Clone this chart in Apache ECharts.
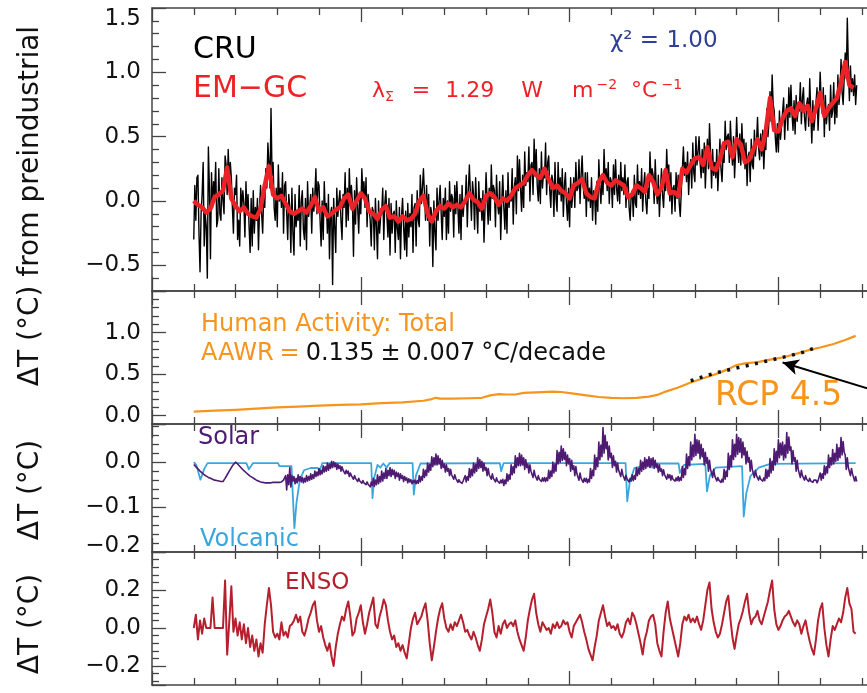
<!DOCTYPE html>
<html>
<head>
<meta charset="utf-8">
<script src="https://cdn.jsdelivr.net/npm/echarts@6/dist/echarts.min.js"></script>
<style>
  html, body { margin: 0; padding: 0; background: #ffffff; }
  #chart { width: 867px; height: 693px; }
</style>
</head>
<body>
<div id="chart"></div>
<script>
// ---------------- data ----------------
// Observed global temperature anomaly (CRU), quarter-year steps from 1860
const cruStart = 1860, cruStep = 0.25;
const cruValues = [
  -0.30, 0.12, -0.15, 0.18,   0.20, -0.25, -0.55, -0.10,
  0.05, 0.30, -0.35, -0.10,   -0.20, -0.60, 0.42, 0.10,
  -0.45, 0.22, -0.05, 0.15,   0.05, 0.30, -0.20, -0.15,
  0.25, -0.10, -0.15, 0.18,   0.00, -0.10, 0.35, 0.28,
  0.05, 0.40, 0.15, 0.30,     0.18, -0.05, -0.25, 0.10,
  0.05, 0.20, -0.30, -0.15,   -0.35, 0.10, -0.05, 0.08,
  -0.02, -0.28, 0.15, -0.10,  0.05, -0.20, -0.40, 0.02,
  -0.35, 0.08, -0.25, -0.05,  -0.15, 0.02, -0.38, -0.05,
  0.12, -0.10, -0.25, 0.05,   -0.05, 0.25, 0.10, 0.45,
  0.30, 0.10, 0.72, 0.20,     0.30, -0.05, -0.15, 0.10,
  -0.20, 0.28, 0.00, 0.10,    -0.05, 0.22, -0.25, 0.12,
  0.15, -0.10, -0.30, 0.05,   -0.05, -0.40, 0.10, -0.25,
  -0.42, 0.05, -0.20, -0.10,  -0.15, 0.12, -0.35, 0.00,
  0.08, -0.22, -0.30, 0.02,   -0.38, 0.15, -0.12, -0.05,
  0.05, -0.25, 0.10, -0.08,   0.05, 0.25, -0.10, 0.15,
  0.12, -0.15, -0.35, 0.00,   -0.30, 0.15, -0.10, -0.02,
  -0.25, 0.05, -0.45, -0.10,  -0.05, -0.65, 0.02, -0.20,
  -0.40, 0.10, -0.12, 0.00,   0.08, -0.15, -0.30, 0.05,
  -0.05, 0.22, -0.20, 0.10,   -0.15, 0.25, 0.00, 0.12,
  -0.02, -0.43, 0.08, -0.18,  0.18, -0.05, -0.25, 0.05,
  -0.10, 0.25, 0.05, 0.15,    -0.05, 0.18, -0.20, 0.05,
  0.05, -0.15, -0.35, -0.05,  -0.08, -0.38, 0.02, -0.20,
  -0.45, 0.00, -0.25, -0.12,  -0.10, 0.10, -0.30, -0.02,
  0.08, -0.12, -0.28, 0.02,   -0.42, -0.02, -0.25, -0.10,
  -0.08, -0.40, 0.00, -0.22,  -0.30, -0.05, -0.45, -0.12,
  0.02, -0.20, -0.38, -0.08,  -0.43, -0.02, -0.28, -0.10,
  -0.20, 0.05, -0.40, -0.05,  -0.02, -0.35, 0.08, -0.15,
  -0.20, 0.20, -0.02, 0.10,   0.25, 0.05, -0.15, 0.12,
  -0.15, 0.05, -0.35, -0.05,  -0.10, -0.51, 0.00, -0.25,
  -0.38, 0.10, -0.15, 0.00,   0.12, -0.10, -0.30, 0.02,
  -0.12, 0.10, -0.30, 0.00,   -0.25, 0.15, -0.08, 0.05,
  0.02, -0.28, 0.12, -0.10,   0.15, -0.05, -0.25, 0.05,
  -0.30, 0.12, -0.12, 0.00,   -0.02, 0.20, -0.20, 0.08,
  0.28, 0.05, -0.15, 0.15,    0.05, -0.22, 0.18, -0.05,
  -0.25, 0.15, -0.08, 0.02,   -0.15, 0.08, -0.32, -0.05,
  0.22, 0.00, -0.18, 0.10,    -0.15, 0.28, 0.02, 0.12,
  0.08, -0.20, 0.20, -0.02,   -0.10, 0.15, -0.30, 0.00,
  0.20, -0.05, -0.22, 0.08,   -0.25, 0.22, -0.05, 0.05,
  0.00, 0.25, -0.18, 0.10,    0.18, -0.10, 0.35, 0.08,
  0.32, 0.10, -0.08, 0.20,    -0.05, 0.38, 0.12, 0.22,
  0.15, 0.42, 0.00, 0.28,     0.30, 0.05, 0.48, 0.20,
  0.40, 0.12, 0.00, 0.25,     -0.02, 0.38, 0.10, 0.22,
  0.18, 0.45, 0.05, 0.30,     0.35, 0.08, -0.05, 0.20,
  0.15, -0.12, 0.30, 0.02,    -0.08, 0.30, 0.05, 0.18,
  0.00, 0.25, -0.12, 0.12,    0.22, -0.02, -0.15, 0.10,
  -0.20, 0.18, -0.05, 0.05,   0.18, -0.05, 0.30, 0.08,
  0.10, 0.32, -0.02, 0.20,    0.35, 0.12, 0.02, 0.22,
  -0.12, 0.22, 0.00, 0.10,    -0.05, 0.18, -0.15, 0.08,
  0.05, -0.18, 0.15, -0.08,   0.32, 0.10, -0.02, 0.20,
  0.05, 0.40, 0.15, 0.25,     0.08, 0.30, -0.02, 0.18,
  0.15, -0.05, 0.28, 0.05,    0.32, 0.10, 0.00, 0.20,
  -0.02, 0.30, 0.08, 0.18,    0.05, 0.28, -0.05, 0.15,
  0.18, -0.05, -0.15, 0.05,   0.08, -0.12, 0.20, -0.02,
  -0.05, 0.28, 0.05, 0.15,    0.02, 0.25, -0.08, 0.12,
  0.22, 0.00, -0.10, 0.10,    0.02, 0.38, 0.15, 0.25,
  0.20, -0.02, 0.32, 0.10,    -0.02, 0.20, -0.12, 0.08,
  0.25, 0.05, -0.05, 0.15,    0.08, 0.40, 0.18, 0.28,
  0.00, 0.22, -0.10, 0.10,    0.12, -0.08, 0.22, 0.02,
  0.20, -0.02, -0.12, 0.08,   0.08, 0.42, 0.20, 0.30,
  0.15, 0.38, 0.05, 0.25,     0.32, 0.10, 0.45, 0.22,
  0.15, 0.50, 0.28, 0.38,     0.50, 0.30, 0.18, 0.40,
  0.22, 0.45, 0.10, 0.32,     0.48, 0.25, 0.60, 0.38,
  0.10, 0.40, 0.20, 0.30,     0.18, 0.40, 0.08, 0.28,
  0.48, 0.25, 0.15, 0.36,     0.30, 0.62, 0.40, 0.50,
  0.52, 0.30, 0.62, 0.42,     0.28, 0.50, 0.18, 0.38,
  0.65, 0.42, 0.30, 0.52,     0.28, 0.60, 0.38, 0.48,
  0.25, 0.45, 0.12, 0.35,     0.38, 0.15, 0.48, 0.28,
  0.25, 0.55, 0.35, 0.45,     0.65, 0.42, 0.32, 0.52,
  0.35, 0.55, 0.25, 0.45,     0.40, 0.72, 0.50, 0.62,
  0.85, 0.62, 0.98, 0.75,     0.70, 0.50, 0.38, 0.60,
  0.38, 0.70, 0.48, 0.58,     0.58, 0.80, 0.48, 0.68,
  0.75, 0.55, 0.88, 0.65,     0.90, 0.68, 0.55, 0.78,
  0.52, 0.82, 0.62, 0.72,     0.70, 0.92, 0.60, 0.80,
  0.88, 0.65, 0.55, 0.75,     0.80, 0.58, 0.95, 0.70,
  0.45, 0.78, 0.55, 0.65,     0.65, 0.88, 0.55, 0.75,
  1.00, 0.78, 0.68, 0.88,     0.50, 0.82, 0.60, 0.70,
  0.75, 0.55, 0.90, 0.65,     0.70, 0.92, 0.60, 0.80,
  0.65, 0.98, 0.75, 0.85,     1.10, 0.85, 0.75, 0.95,
  1.15, 0.95, 1.42, 1.05,     0.78, 1.05, 0.85, 0.95,
  0.82, 0.98, 0.75, 0.90
];

// Empirical model (EM-GC) reconstruction, yearly from 1860
const emgcStart = 1860, emgcStep = 1;
const emgcValues = [
  0.00, -0.03, -0.05, -0.09, -0.06, 0.03, 0.05, 0.08, 0.26, 0.02,
  -0.04, -0.08, -0.05, -0.10, -0.12, -0.13, -0.06, 0.12, 0.27, 0.05,
  0.02, 0.04, -0.02, -0.08, -0.10, -0.08, -0.06, -0.09, -0.04, 0.03,
  -0.08, -0.05, -0.12, -0.10, -0.07, -0.05, 0.02, 0.05, -0.06, 0.00,
  0.06, 0.02, -0.08, -0.10, -0.14, -0.07, -0.04, -0.13, -0.12, -0.16,
  -0.12, -0.15, -0.14, -0.10, 0.00, 0.04, -0.10, -0.16, -0.08, -0.04,
  -0.06, -0.02, -0.05, -0.03, -0.05, 0.00, 0.06, 0.01, -0.01, -0.06,
  0.04, 0.06, 0.03, -0.03, 0.02, 0.00, 0.04, 0.10, 0.12, 0.14,
  0.20, 0.24, 0.20, 0.18, 0.25, 0.17, 0.10, 0.12, 0.08, 0.06,
  0.02, 0.12, 0.14, 0.17, 0.06, 0.03, 0.02, 0.15, 0.20, 0.14,
  0.12, 0.16, 0.14, 0.12, 0.03, 0.05, 0.12, 0.10, 0.07, 0.20,
  0.15, 0.05, 0.10, 0.24, 0.06, 0.07, 0.04, 0.25, 0.22, 0.28,
  0.33, 0.34, 0.28, 0.42, 0.26, 0.24, 0.32, 0.45, 0.46, 0.34,
  0.48, 0.44, 0.30, 0.32, 0.40, 0.48, 0.40, 0.55, 0.80, 0.55,
  0.54, 0.64, 0.70, 0.72, 0.66, 0.76, 0.70, 0.74, 0.62, 0.72,
  0.84, 0.66, 0.72, 0.76, 0.80, 0.92, 1.08, 0.90, 0.88
];

// Total anthropogenic contribution [year, dT]
const humanTotal = [
  [1860, 0.05], [1865, 0.06], [1870, 0.07], [1875, 0.085], [1880, 0.10], [1885, 0.11], [1890, 0.12],
  [1895, 0.13], [1900, 0.135], [1905, 0.15], [1910, 0.16], [1915, 0.18], [1917, 0.20], [1918, 0.215],
  [1919, 0.205], [1922, 0.205], [1926, 0.21], [1929, 0.215], [1931, 0.245], [1933, 0.26], [1935, 0.255],
  [1937, 0.255], [1939, 0.275], [1942, 0.28], [1946, 0.29], [1948, 0.285], [1951, 0.265], [1954, 0.245],
  [1957, 0.225], [1960, 0.215], [1963, 0.21], [1966, 0.215], [1969, 0.23], [1971, 0.25], [1973, 0.29],
  [1976, 0.34], [1979, 0.40], [1982, 0.45], [1985, 0.50], [1988, 0.56], [1990, 0.61], [1992, 0.63],
  [1995, 0.645], [1998, 0.675], [2001, 0.70], [2004, 0.74], [2007, 0.785], [2010, 0.82], [2013, 0.86],
  [2016, 0.91], [2018.5, 0.96]
];

// RCP 4.5 anthropogenic warming segment [year, dT]
const rcp45 = [
  [1979, 0.42], [1982, 0.47], [1985, 0.515], [1988, 0.55], [1991, 0.585], [1994, 0.62],
  [1997, 0.655], [2000, 0.69], [2003, 0.725], [2006, 0.765], [2009.5, 0.83]
];

// Solar irradiance contribution: half-year steps 1860-1881.5, then quarter-year steps from 1882
const solarEarlyStart = 1860, solarEarlyStep = 0.5;
const solarEarlyValues = [
  -0.005, -0.010, -0.015, -0.020, -0.024, -0.028, -0.031, -0.034, -0.036, -0.038, -0.040, -0.041, -0.042, -0.043, -0.043, -0.036, -0.028, -0.020, -0.012, -0.005,
  0.000, -0.004, -0.009, -0.014, -0.019, -0.023, -0.027, -0.031, -0.034, -0.037, -0.040, -0.042, -0.044, -0.045, -0.046, -0.046, -0.046, -0.046, -0.045, -0.045,
  -0.045, -0.045, -0.044, -0.040
];
const solarStart = 1882, solarStep = 0.25;
const solarValues = [
  -0.030, -0.062, -0.028, -0.050,  -0.012, -0.055, -0.030, -0.042,  -0.032, -0.048, -0.036, -0.046,  -0.028, -0.042, -0.032, -0.044,
  -0.034, -0.046, -0.036, -0.044,  -0.030, -0.042, -0.032, -0.040,  -0.026, -0.038, -0.028, -0.036,  -0.020, -0.032, -0.022, -0.030,
  -0.014, -0.028, -0.018, -0.026,  -0.008, -0.022, -0.010, -0.020,  -0.002, -0.018, -0.004, -0.014,  0.002, -0.012, 0.001, -0.010,
  -0.002, -0.016, -0.004, -0.014,  -0.008, -0.020, -0.010, -0.018,  -0.014, -0.026, -0.018, -0.025,  -0.020, -0.032, -0.024, -0.030,
  -0.027, -0.038, -0.030, -0.036,  -0.034, -0.043, -0.036, -0.042,  -0.039, -0.047, -0.041, -0.046,  -0.042, -0.050, -0.044, -0.049,
  -0.045, -0.055, -0.044, -0.052,  -0.036, -0.054, -0.040, -0.050,  -0.028, -0.048, -0.032, -0.044,  -0.020, -0.042, -0.024, -0.036,
  -0.014, -0.036, -0.018, -0.030,  -0.012, -0.032, -0.016, -0.028,  -0.018, -0.036, -0.022, -0.032,  -0.024, -0.040, -0.026, -0.036,
  -0.030, -0.043, -0.032, -0.040,  -0.035, -0.046, -0.037, -0.044,  -0.039, -0.048, -0.041, -0.046,  -0.040, -0.048, -0.041, -0.047,
  -0.030, -0.044, -0.032, -0.040,  -0.016, -0.034, -0.018, -0.030,  -0.002, -0.022, -0.005, -0.018,  0.012, -0.010, 0.010, -0.006,
  0.018, -0.006, 0.014, -0.004,    0.008, -0.014, 0.004, -0.012,    -0.004, -0.022, -0.006, -0.020,  -0.014, -0.030, -0.016, -0.028,
  -0.026, -0.038, -0.028, -0.036,  -0.037, -0.045, -0.039, -0.044,  -0.041, -0.047, -0.042, -0.046,  -0.030, -0.044, -0.032, -0.040,
  -0.014, -0.034, -0.016, -0.030,  -0.002, -0.024, -0.005, -0.020,  0.010, -0.014, 0.006, -0.012,    0.002, -0.020, -0.002, -0.018,
  -0.012, -0.030, -0.014, -0.028,  -0.024, -0.038, -0.026, -0.036,  -0.033, -0.044, -0.035, -0.042,  -0.038, -0.047, -0.040, -0.046,
  -0.038, -0.052, -0.040, -0.048,  -0.026, -0.042, -0.028, -0.038,  -0.006, -0.028, -0.010, -0.024,  0.014, -0.012, 0.010, -0.008,
  0.020, -0.008, 0.016, -0.006,    0.010, -0.016, 0.006, -0.012,    -0.004, -0.024, -0.006, -0.020,  -0.016, -0.034, -0.018, -0.030,
  -0.028, -0.040, -0.030, -0.038,  -0.034, -0.043, -0.035, -0.042,  -0.034, -0.043, -0.035, -0.041,  -0.018, -0.036, -0.020, -0.032,
  0.000, -0.024, -0.004, -0.020,   0.026, -0.004, 0.022, 0.000,     0.036, 0.004, 0.030, 0.006,      0.022, -0.008, 0.016, -0.004,
  0.008, -0.020, 0.004, -0.016,    -0.008, -0.030, -0.010, -0.026,  -0.022, -0.040, -0.024, -0.036,  -0.034, -0.045, -0.036, -0.043,
  -0.036, -0.046, -0.038, -0.044,  -0.014, -0.036, -0.018, -0.030,  0.016, -0.016, 0.010, -0.010,    0.045, 0.005, 0.038, 0.012,
  0.077, 0.020, 0.060, 0.030,      0.045, 0.005, 0.036, 0.010,      0.020, -0.012, 0.014, -0.008,    0.002, -0.022, -0.002, -0.018,
  -0.014, -0.032, -0.016, -0.028,  -0.027, -0.040, -0.029, -0.037,  -0.035, -0.044, -0.036, -0.042,  -0.028, -0.041, -0.030, -0.038,
  -0.012, -0.030, -0.014, -0.026,  0.004, -0.020, 0.000, -0.016,    0.010, -0.014, 0.006, -0.010,    0.012, -0.012, 0.008, -0.008,
  0.010, -0.014, 0.004, -0.012,    -0.004, -0.022, -0.006, -0.020,  -0.015, -0.030, -0.017, -0.028,  -0.025, -0.038, -0.027, -0.035,
  -0.028, -0.040, -0.030, -0.038,  -0.034, -0.042, -0.035, -0.041,  -0.032, -0.042, -0.034, -0.040,  -0.010, -0.034, -0.014, -0.028,
  0.018, -0.014, 0.012, -0.008,    0.045, 0.005, 0.038, 0.012,      0.062, 0.015, 0.050, 0.020,      0.048, 0.008, 0.040, 0.012,
  0.030, -0.006, 0.022, -0.002,    0.010, -0.020, 0.004, -0.016,    -0.014, -0.034, -0.016, -0.030,  -0.032, -0.042, -0.034, -0.040,
  -0.037, -0.045, -0.038, -0.044,  -0.016, -0.038, -0.020, -0.032,  0.020, -0.016, 0.014, -0.010,    0.050, 0.006, 0.040, 0.012,
  0.062, 0.018, 0.055, 0.022,      0.052, 0.010, 0.045, 0.016,      0.032, -0.004, 0.024, 0.000,     0.010, -0.020, 0.004, -0.016,
  -0.016, -0.034, -0.018, -0.030,  -0.030, -0.040, -0.031, -0.038,  -0.034, -0.042, -0.035, -0.041,  -0.016, -0.036, -0.018, -0.032,
  0.008, -0.024, 0.002, -0.018,    0.030, -0.006, 0.024, 0.000,     0.050, 0.010, 0.042, 0.016,      0.045, 0.005, 0.038, 0.010,
  0.066, 0.020, 0.056, 0.026,      0.034, -0.004, 0.026, 0.002,     0.010, -0.020, 0.004, -0.016,    -0.016, -0.034, -0.018, -0.030,
  -0.028, -0.040, -0.030, -0.038,  -0.035, -0.043, -0.036, -0.042,  -0.039, -0.045, -0.040, -0.044,  -0.040, -0.046, -0.041, -0.045,
  -0.024, -0.040, -0.026, -0.036,  -0.008, -0.028, -0.010, -0.024,  0.016, -0.012, 0.010, -0.006,    0.028, -0.004, 0.020, 0.002,
  0.040, 0.004, 0.032, 0.010,      0.055, 0.016, 0.046, 0.022,      0.016, -0.016, 0.010, -0.012,    -0.010, -0.030, -0.014, -0.026,
  -0.028, -0.042, -0.032, -0.043
];

// Volcanic aerosol contribution [year, dT]
const volcanic = [
  [1860, 0], [1860.6, -0.006], [1861.6, -0.039], [1862.5, -0.015], [1863.3, -0.002], [1872.6, -0.002],
  [1873.2, -0.016], [1874.2, -0.002], [1880.2, -0.002], [1880.5, -0.009], [1883.4, -0.009], [1883.7, -0.07],
  [1884.1, -0.147], [1884.6, -0.09], [1885.4, -0.04], [1886.4, -0.018], [1888, -0.013], [1889.6, -0.013],
  [1890.2, -0.018], [1890.8, -0.002], [1902.5, -0.002], [1902.8, -0.08], [1903.2, -0.035], [1904.0, -0.006],
  [1904.7, -0.012], [1905.4, -0.003], [1906.2, -0.012], [1906.9, -0.002], [1912.4, -0.002], [1912.7, -0.072],
  [1913.2, -0.03], [1914.3, -0.003], [1933.3, -0.002], [1933.6, -0.02], [1934.2, -0.002], [1963.4, -0.002],
  [1963.8, -0.087], [1964.4, -0.045], [1965.5, -0.013], [1967.5, -0.009], [1968.5, -0.004], [1969.8, -0.012],
  [1970.8, -0.003], [1976.1, -0.003], [1976.4, -0.024], [1977.4, -0.006], [1982.5, -0.004], [1982.9, -0.065],
  [1983.6, -0.03], [1985, -0.012], [1991.3, -0.009], [1991.7, -0.121], [1992.3, -0.07], [1993.3, -0.031],
  [1995.3, -0.012], [1998, -0.004], [2018.5, -0.002]
];

// ENSO contribution, half-year steps from 1860
const ensoStart = 1860, ensoStep = 0.5;
const ensoValues = [
  0.00, 0.07, -0.06, 0.04, -0.03, 0.05, 0.00, 0.00, 0.00, 0.16, 0.00, 0.00, 0.00, 0.00, 0.00, 0.25, -0.14, 0.03, 0.22, -0.02,
  0.05, -0.04, 0.03, -0.06, 0.02, -0.08, 0.00, -0.10, -0.04, -0.12, -0.06, -0.15, -0.08, -0.13, 0.02, 0.12, 0.21, 0.12, -0.02, -0.05,
  -0.03, -0.06, 0.03, -0.04, -0.02, -0.05, 0.01, 0.02, 0.04, 0.07, 0.03, 0.06, -0.02, -0.04, 0.00, 0.05, 0.08, 0.12, 0.14, 0.04,
  -0.02, 0.01, -0.05, -0.09, -0.12, -0.08, -0.15, -0.20, -0.10, -0.03, 0.02, 0.06, 0.04, 0.10, 0.14, 0.06, -0.04, -0.02, 0.05, 0.08,
  0.12, 0.03, -0.03, 0.02, 0.08, 0.12, 0.16, 0.02, 0.00, 0.06, 0.10, 0.15, 0.12, 0.04, -0.02, -0.06, -0.04, -0.10, -0.08, -0.12,
  -0.09, -0.13, -0.16, -0.08, 0.00, 0.05, 0.08, 0.02, 0.04, 0.06, 0.10, 0.13, 0.04, -0.08, -0.17, -0.10, -0.02, 0.05, 0.10, 0.13,
  0.05, 0.00, -0.02, 0.02, -0.01, 0.03, 0.01, 0.04, 0.07, 0.03, -0.02, -0.01, -0.04, -0.06, -0.02, -0.05, -0.09, -0.12, -0.06, 0.02,
  0.06, 0.10, 0.15, 0.08, -0.02, -0.05, 0.01, -0.03, 0.02, 0.04, 0.00, 0.02, 0.03, 0.01, 0.04, -0.02, -0.06, -0.09, -0.12, -0.05,
  0.04, 0.10, 0.15, 0.18, 0.08, 0.02, -0.02, 0.03, 0.01, -0.01, 0.00, -0.03, 0.02, 0.00, 0.03, 0.00, 0.01, 0.04, 0.02, 0.03,
  -0.02, -0.05, 0.01, 0.03, 0.05, 0.07, 0.03, -0.02, -0.06, -0.11, -0.14, -0.17, -0.10, -0.04, 0.04, 0.08, 0.12, 0.06, 0.01, 0.03,
  0.00, 0.01, -0.01, 0.02, -0.03, -0.05, -0.02, 0.03, 0.05, 0.02, 0.08, 0.06, 0.02, -0.03, -0.08, -0.14, -0.06, -0.02, 0.04, 0.06,
  0.07, 0.02, -0.08, -0.12, -0.15, -0.02, 0.08, 0.14, 0.05, 0.00, -0.05, -0.10, -0.15, -0.08, 0.02, 0.06, 0.04, 0.07, 0.03, 0.05,
  0.03, 0.06, 0.02, -0.01, 0.04, 0.12, 0.20, 0.24, 0.10, 0.03, -0.02, -0.05, -0.03, 0.02, 0.08, 0.14, 0.17, 0.05, -0.05, -0.11,
  -0.04, 0.02, 0.05, 0.09, 0.14, 0.18, 0.08, 0.02, 0.05, 0.06, 0.09, 0.04, 0.02, 0.06, 0.10, 0.14, 0.20, 0.25, 0.10, 0.02,
  -0.01, 0.01, 0.04, 0.06, 0.07, 0.09, 0.06, 0.03, 0.01, 0.04, 0.02, -0.03, 0.01, 0.04, -0.02, -0.07, -0.11, -0.14, -0.06, 0.04,
  0.10, 0.13, 0.00, -0.09, -0.15, -0.06, 0.01, -0.01, 0.02, 0.05, 0.03, 0.08, 0.16, 0.21, 0.13, 0.10, -0.02, -0.03
];

// Labelled y ticks for each panel (top to bottom)
const yTickLabels = [
  [1.5, 1.0, 0.5, 0.0, -0.5],
  [1.0, 0.5, 0.0],
  [0.0, -0.1, -0.2],
  [0.2, 0.0, -0.2]
];
// Arrow pointing at the RCP 4.5 segment [year, dT]
const rcpArrow = [[2029, 0.21], [2001, 0.64]];

// ---------------- layout & styling ----------------
const FONT = '"DejaVu Sans", sans-serif';
const FRAME = '#444444';
const X_MIN = 1850, X_MAX = 2030;
const PX_PER_YEAR = 4.176;
const GRID_LEFT = 152;
const panels = [
  { top: 8,   height: 283, min: -0.7, max: 1.5,   step: 0.5 },
  { top: 291, height: 133, min: -0.1, max: 1.5,   step: 0.5 },
  { top: 424, height: 128, min: -0.2, max: 0.085, step: 0.1 },
  { top: 552, height: 133, min: -0.3, max: 0.4,   step: 0.2 }
];

const toPairs = (start, step, vals) => vals.map((v, i) => [+(start + i * step).toFixed(2), v]);
const fmt = v => (v < -1e-9 ? '\u2212' : '') + Math.abs(v).toFixed(1);

const grids = panels.map(p => ({
  left: GRID_LEFT, top: p.top, height: p.height,
  width: (X_MAX - X_MIN) * PX_PER_YEAR,
  containLabel: false, outerBoundsMode: 'none', show: false
}));

function xAxisFor(gridIndex, position) {
  return {
    type: 'value', gridIndex, position, min: X_MIN, max: X_MAX, interval: 50,
    axisLine: { show: true, onZero: false, lineStyle: { color: FRAME, width: 1.5 } },
    axisTick: { show: true, inside: true, length: 14, lineStyle: { color: FRAME, width: 1.3 } },
    minorTick: { show: true, splitNumber: 5, length: 7, lineStyle: { color: FRAME, width: 1.3 } },
    axisLabel: { show: false },
    splitLine: { show: false }, minorSplitLine: { show: false }
  };
}

function yAxisFor(i) {
  const p = panels[i];
  const shown = yTickLabels[i];
  const label = {
    show: true, margin: 11, color: '#111', fontSize: 23, fontFamily: FONT,
    formatter: v => shown.some(s => Math.abs(s - v) < 1e-6) ? fmt(v) : ''
  };
  if (i === 0) label.verticalAlignMaxLabel = 'top';
  if (i === 2) { label.verticalAlignMinLabel = 'bottom'; label.lineHeight = 12; }
  return {
    type: 'value', gridIndex: i, position: 'left',
    min: p.min, max: p.max, minInterval: p.step, maxInterval: p.step,
    splitNumber: Math.max(1, Math.round((p.max - p.min) / p.step)),
    axisLine: { show: true, onZero: false, lineStyle: { color: FRAME, width: 1.5 } },
    axisTick: { show: true, inside: true, length: 14, lineStyle: { color: FRAME, width: 1.3 } },
    minorTick: { show: true, splitNumber: 5, length: 7, lineStyle: { color: FRAME, width: 1.3 } },
    axisLabel: label,
    splitLine: { show: false }, minorSplitLine: { show: false }
  };
}

const xAxes = [];
panels.forEach((p, i) => { xAxes.push(xAxisFor(i, 'bottom')); xAxes.push(xAxisFor(i, 'top')); });
const yAxes = panels.map((p, i) => yAxisFor(i));

function lineSeries(name, panel, data, color, width, z, extra) {
  return Object.assign({
    type: 'line', name, xAxisIndex: panel * 2, yAxisIndex: panel, data,
    showSymbol: false, symbol: 'none', smooth: false, animation: false, silent: true,
    sampling: null, z, clip: true,
    lineStyle: { color, width, join: 'round' }, itemStyle: { color }
  }, extra || {});
}

const solarData = toPairs(solarEarlyStart, solarEarlyStep, solarEarlyValues)
  .concat(toPairs(solarStart, solarStep, solarValues));

const series = [
  lineSeries('CRU', 0, toPairs(cruStart, cruStep, cruValues), '#000000', 1.4, 2),
  lineSeries('EM-GC', 0, toPairs(emgcStart, emgcStep, emgcValues), '#ec2227', 4.5, 3),
  lineSeries('Human Activity: Total', 1, humanTotal, '#f7941d', 2.2, 2, {
    markLine: {
      silent: true, animation: false, symbol: ['none', 'arrow'], symbolSize: [12, 16],
      label: { show: false },
      lineStyle: { color: '#000000', width: 2, type: 'solid' },
      data: [[{ coord: rcpArrow[0] }, { coord: rcpArrow[1] }]]
    }
  }),
  lineSeries('RCP 4.5', 1, rcp45, '#111111', 3.5, 4, {
    lineStyle: { color: '#111111', width: 3.5, type: [3, 6.5], cap: 'butt' }
  }),
  lineSeries('Volcanic', 2, volcanic, '#3aa6de', 1.8, 2),
  lineSeries('Solar', 2, solarData, '#4e1a72', 1.6, 3),
  lineSeries('ENSO', 3, toPairs(ensoStart, ensoStep, ensoValues), '#b61f2d', 2, 2)
];

function txt(text, x, y, size, fill, extra) {
  return {
    type: 'text', x, y, silent: true, z: 50,
    style: Object.assign({
      text, fontSize: size, fontFamily: FONT, fill,
      align: 'left', textAlign: 'left', verticalAlign: 'middle', textVerticalAlign: 'middle'
    }, extra || {})
  };
}
function vtxt(text, x, y, size) {
  const t = txt(text, x, y, size, '#111', { align: 'center', textAlign: 'center' });
  t.rotation = Math.PI / 2;
  return t;
}

const red = '#ec2227';
const lambdaRich = {
  m:  { fontSize: 22, fontFamily: FONT, fill: red, color: red, lineHeight: 26 },
  sb: { fontSize: 14, fontFamily: FONT, fill: red, color: red, verticalAlign: 'bottom' },
  p1: { fontSize: 22, fontFamily: FONT, fill: red, color: red, lineHeight: 26, padding: [0, 0, 0, 11] },
  p2: { fontSize: 22, fontFamily: FONT, fill: red, color: red, lineHeight: 26, padding: [0, 0, 0, 8] },
  p3: { fontSize: 22, fontFamily: FONT, fill: red, color: red, lineHeight: 26, padding: [0, 0, 0, 20] },
  p4: { fontSize: 22, fontFamily: FONT, fill: red, color: red, lineHeight: 26, padding: [0, 0, 0, 22] },
  p5: { fontSize: 22, fontFamily: FONT, fill: red, color: red, lineHeight: 26, padding: [0, 0, 0, 7] },
  s1: { fontSize: 14, fontFamily: FONT, fill: red, color: red, verticalAlign: 'top', padding: [0, 0, 0, 3] },
  s2: { fontSize: 14, fontFamily: FONT, fill: red, color: red, verticalAlign: 'top', padding: [0, 0, 0, 4] }
};

const orange = '#f7941d';
const aawrRich = {
  o:  { fontSize: 24, fontFamily: FONT, fill: orange, color: orange },
  o2: { fontSize: 24, fontFamily: FONT, fill: orange, color: orange, padding: [0, 0, 0, 6] },
  k:  { fontSize: 24, fontFamily: FONT, fill: '#111', color: '#111', padding: [0, 0, 0, 6] }
};

const graphic = [
  txt('CRU', 193, 50, 30, '#000000'),
  txt('EM\u2212GC', 193, 89, 30, red),
  txt('\u03C7\u00B2 = 1.00', 610, 41, 23, '#2d3f96'),
  txt('{m|\u03BB}{sb|\u03A3}{p1| =}{p2| 1.29}{p3| W}{p4| m}{s1|\u22122}{p5| \u00B0C}{s2|\u22121}', 372, 91, 22, red, { rich: lambdaRich }),
  txt('Human Activity: Total', 201, 325, 24, orange),
  txt('{o|AAWR}{o2|=}{k|0.135}{k|\u00B1}{k|0.007}{k|\u00B0C/decade}', 201, 354, 24, orange, { rich: aawrRich }),
  txt('RCP 4.5', 715, 396, 33, orange),
  txt('Solar', 198, 438, 24, '#4e1a72'),
  txt('Volcanic', 200, 540, 24, '#3aa6de'),
  txt('ENSO', 285, 583, 23, '#b61f2d'),
  vtxt('\u0394T (\u00B0C) from preindustrial', 31, 206, 28),
  vtxt('\u0394T (\u00B0C)', 31, 490, 28),
  vtxt('\u0394T (\u00B0C)', 31, 624, 28)
];

const chart = echarts.init(document.getElementById('chart'), null, { renderer: 'canvas', width: 867, height: 693 });
chart.setOption({
  animation: false,
  backgroundColor: '#ffffff',
  textStyle: { fontFamily: FONT },
  grid: grids,
  xAxis: xAxes,
  yAxis: yAxes,
  series,
  graphic
});
</script>
</body>
</html>
